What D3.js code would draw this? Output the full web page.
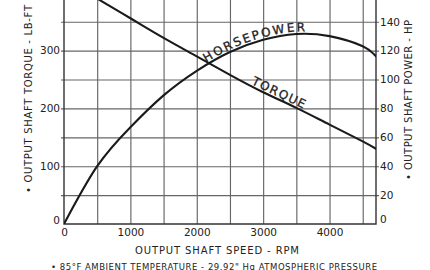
<!DOCTYPE html>
<html><head><meta charset="utf-8">
<script src="https://cdn.jsdelivr.net/npm/d3@7"></script>
<style>
html,body{margin:0;padding:0;background:#fff;}
svg{display:block;}
text{font-family:"DejaVu Sans",sans-serif;fill:#222;}
</style></head>
<body>
<svg id="c" width="430" height="270"></svg>
<script>
// ---- data ----
const rpmHP = [0, 500, 1000, 1500, 2000, 2500, 3000, 3500, 4000, 4500, 4700];
const horsepower = [0, 40, 67, 89, 106, 119, 127.5, 131.5, 130, 123, 116];
const rpmTorque = [400, 500, 1000, 1500, 2000, 2500, 3000, 3500, 4000, 4500, 4700];
const torque = [397, 390, 356, 322, 290, 258, 228, 201, 172, 143, 130];
const xTicks = [0, 1000, 2000, 3000, 4000];
const gridRpm = [500, 1000, 1500, 2000, 2500, 3000, 3500, 4000, 4500];
const gridTorque = [50, 100, 150, 200, 250, 300, 350, 400];
const torqueTicks = [0, 100, 200, 300];
const powerTicks = [0, 20, 40, 60, 80, 100, 120, 140];
const xTitle = "OUTPUT SHAFT SPEED - RPM";
const leftTitle = "\u2022 OUTPUT SHAFT TORQUE - LB-FT";
const rightTitle = "\u2022 OUTPUT SHAFT POWER - HP";
const footnote = "\u2022 85\u00B0F AMBIENT TEMPERATURE - 29.92\" Hg ATMOSPHERIC PRESSURE";

const svg = d3.select("#c");
const pLeft = 64, pRight = 376, pBottom = 224, pTop = -7.2;
const x = d3.scaleLinear().domain([0, 4700]).range([pLeft, pRight]);
const yT = d3.scaleLinear().domain([0, 400]).range([pBottom, pTop]);
const yP = d3.scaleLinear().domain([0, 160]).range([pBottom, pTop]);

const defs = svg.append("defs");
defs.append("clipPath").attr("id", "clip")
  .append("rect").attr("x", pLeft).attr("y", -20).attr("width", pRight - pLeft).attr("height", pBottom + 20);

// grid via d3 axes (tick lines spanning the plot)
const gridV = svg.append("g").attr("transform", `translate(0,${pBottom})`)
  .call(d3.axisBottom(x).tickValues(gridRpm).tickSize(-pBottom).tickFormat(""));
const gridH = svg.append("g").attr("transform", `translate(${pLeft - 3},0)`)
  .call(d3.axisRight(yT).tickValues(gridTorque).tickSize(pRight - pLeft + 6).tickFormat(""));
[gridV, gridH].forEach(g => {
  g.select(".domain").remove();
  g.selectAll(".tick line").attr("stroke", "#666").attr("stroke-width", 1.15);
});

// frame
svg.append("path").attr("d", `M${pLeft},0V${pBottom}H${pRight}V0`)
  .attr("fill", "none").attr("stroke", "#333").attr("stroke-width", 1.4);

// axes labels via d3 axes
const fs = 10.5;
const axL = svg.append("g").attr("transform", `translate(${pLeft},0)`)
  .call(d3.axisLeft(yT).tickValues(torqueTicks).tickSize(0).tickPadding(4).tickFormat(d3.format("d")));
const axR = svg.append("g").attr("transform", `translate(${pRight},0)`)
  .call(d3.axisRight(yP).tickValues(powerTicks).tickSize(0).tickPadding(4).tickFormat(d3.format("d")));
const axB = svg.append("g").attr("transform", `translate(0,${pBottom})`)
  .call(d3.axisBottom(x).tickValues(xTicks).tickSize(0).tickPadding(5).tickFormat(d3.format("d")));
[axL, axR, axB].forEach(a => {
  a.select(".domain").remove();
  a.selectAll("text").attr("font-size", fs).attr("font-family", "DejaVu Sans").attr("fill", "#222");
});
axL.selectAll(".tick").filter(d => d === 0).select("text").attr("dy", "-0.05em");
axR.selectAll(".tick").filter(d => d === 0).select("text").attr("dy", "-0.15em");

// curves
const curves = svg.append("g").attr("clip-path", "url(#clip)").attr("fill", "none")
  .attr("stroke", "#1a1a1a").attr("stroke-width", 2.1).attr("stroke-linecap", "round");
const hpData = rpmHP.map((r, i) => [r, horsepower[i]]);
const tqData = rpmTorque.map((r, i) => [r, torque[i]]);
const hpLine = d3.line().x(d => x(d[0])).y(d => yP(d[1])).curve(d3.curveNatural);
const tqLine = d3.line().x(d => x(d[0])).y(d => yT(d[1])).curve(d3.curveNatural);
curves.append("path").attr("d", hpLine(hpData));
curves.append("path").attr("d", tqLine(tqData));

// labels along curves
const hpLab = defs.append("path").attr("id", "hpLab")
  .attr("d", d3.line().x(d => x(d[0])).y(d => yP(d[1]) - 2.5).curve(d3.curveNatural)(hpData));
const tqLab = defs.append("path").attr("id", "tqLab")
  .attr("d", d3.line().x(d => x(d[0])).y(d => yT(d[1]) - 2.5).curve(d3.curveNatural)(tqData));
function offAt(node, tx) {
  let lo = 0, hi = node.getTotalLength();
  for (let i = 0; i < 40; i++) {
    const m = (lo + hi) / 2;
    if (node.getPointAtLength(m).x < tx) lo = m; else hi = m;
  }
  return lo;
}
function pathLabel(id, node, txt, x0, x1) {
  const s = offAt(node, x0), e = offAt(node, x1);
  svg.append("text").attr("font-size", 12).style("stroke", "#222").style("stroke-width", "0.3px")
    .append("textPath").attr("href", "#" + id).attr("startOffset", s)
    .attr("textLength", e - s).attr("lengthAdjust", "spacing").text(txt);
}
pathLabel("hpLab", hpLab.node(), "HORSEPOWER", 206, 305);
pathLabel("tqLab", tqLab.node(), "TORQUE", 251, 303);

// titles
svg.append("text").attr("x", (135 + 299) / 2).attr("y", 254).attr("text-anchor", "middle")
  .attr("font-size", 10).attr("textLength", 164).attr("lengthAdjust", "spacing").text(xTitle);
svg.append("text").attr("transform", "translate(31.5,99) rotate(-90)").attr("text-anchor", "middle")
  .attr("font-size", 10).attr("textLength", 188).attr("lengthAdjust", "spacing").text(leftTitle);
svg.append("text").attr("transform", "translate(411.5,100) rotate(-90)").attr("text-anchor", "middle")
  .attr("font-size", 10).attr("textLength", 160).attr("lengthAdjust", "spacing").text(rightTitle);
svg.append("text").attr("x", 51).attr("y", 269.5)
  .attr("font-size", 8.5).attr("textLength", 326).attr("lengthAdjust", "spacing").text(footnote);
</script>
</body></html>
